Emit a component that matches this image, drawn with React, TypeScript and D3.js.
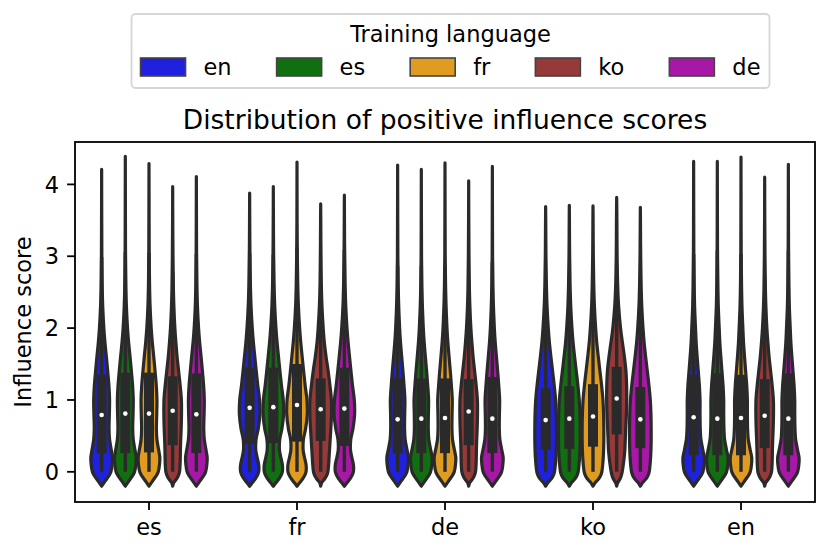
import React from 'react'
import * as d3 from 'd3'

// categories
const EVAL_LANGS = ['es', 'fr', 'de', 'ko', 'en']
const TRAIN_LANGS = ['en', 'es', 'fr', 'ko', 'de']
const COLORS = ['#2020df', '#107010', '#df9c20', '#963939', '#a718a7']
const Y_TICKS = [0, 1, 2, 3, 4]

// per training language, in EVAL_LANGS order
const MEDIANS: Record<string, number[]> = {
  en: [0.79, 0.89, 0.73, 0.72, 0.76],
  es: [0.81, 0.9, 0.74, 0.74, 0.74],
  fr: [0.81, 0.93, 0.75, 0.77, 0.75],
  ko: [0.85, 0.87, 0.84, 1.02, 0.78],
  de: [0.8, 0.88, 0.74, 0.73, 0.74],
}
const Q1: Record<string, number[]> = {
  en: [0.26, 0.39, 0.26, 0.31, 0.23],
  es: [0.26, 0.4, 0.26, 0.32, 0.23],
  fr: [0.27, 0.42, 0.26, 0.35, 0.23],
  ko: [0.37, 0.43, 0.37, 0.52, 0.33],
  de: [0.26, 0.36, 0.26, 0.33, 0.23],
}
const Q3: Record<string, number[]> = {
  en: [1.35, 1.45, 1.3, 1.16, 1.35],
  es: [1.38, 1.45, 1.3, 1.19, 1.37],
  fr: [1.38, 1.5, 1.3, 1.22, 1.35],
  ko: [1.33, 1.3, 1.29, 1.46, 1.29],
  de: [1.37, 1.45, 1.32, 1.18, 1.37],
}
const TOPS: Record<string, number[]> = {
  en: [4.21, 3.88, 4.27, 3.69, 4.32],
  es: [4.39, 3.97, 4.21, 3.71, 4.32],
  fr: [4.29, 4.31, 4.3, 3.7, 4.38],
  ko: [3.97, 3.73, 4.05, 3.82, 4.1],
  de: [4.11, 3.85, 4.25, 3.68, 4.28],
}
const DATA_MIN = 0

// violin outlines: relative half-width at each score level
const LEVELS = [-0.2, -0.15, -0.1, -0.05, 0, 0.1, 0.2, 0.3, 0.45, 0.6, 0.8, 1.0, 1.2, 1.4, 1.6, 1.8, 2.0, 2.3, 2.6, 3.0, 3.5]
const SHAPES: Record<string, number[]> = {
  sharpEs: [0, 0.22, 0.45, 0.68, 0.84, 0.95, 0.98, 0.88, 0.72, 0.67, 0.7, 0.72, 0.66, 0.55, 0.43, 0.3, 0.2, 0.1, 0.05, 0.02, 0.01],
  sharpDe: [0, 0.22, 0.45, 0.68, 0.84, 0.95, 0.98, 0.86, 0.68, 0.63, 0.64, 0.66, 0.58, 0.48, 0.37, 0.26, 0.18, 0.1, 0.05, 0.02, 0.01],
  sharpEn: [0, 0.22, 0.45, 0.68, 0.84, 0.95, 0.97, 0.84, 0.66, 0.6, 0.58, 0.58, 0.52, 0.42, 0.32, 0.23, 0.17, 0.09, 0.05, 0.02, 0.01],
  wavy: [0, 0.25, 0.5, 0.7, 0.82, 0.82, 0.68, 0.56, 0.58, 0.78, 0.93, 0.9, 0.74, 0.6, 0.47, 0.34, 0.24, 0.13, 0.07, 0.03, 0.01],
  round: [0, 0.2, 0.5, 0.7, 0.8, 0.88, 0.93, 0.96, 0.98, 0.98, 0.96, 0.9, 0.78, 0.63, 0.48, 0.34, 0.24, 0.13, 0.07, 0.03, 0.01],
  koRound: [0, 0.1, 0.35, 0.52, 0.62, 0.67, 0.69, 0.7, 0.73, 0.77, 0.8, 0.79, 0.68, 0.54, 0.4, 0.29, 0.2, 0.11, 0.06, 0.03, 0.01],
  koFr: [0, 0.1, 0.35, 0.55, 0.65, 0.72, 0.76, 0.8, 0.86, 0.92, 0.98, 0.97, 0.84, 0.68, 0.49, 0.33, 0.23, 0.12, 0.06, 0.03, 0.01],
  koKo: [0, 0.1, 0.3, 0.42, 0.5, 0.6, 0.68, 0.74, 0.78, 0.82, 0.88, 0.91, 0.9, 0.84, 0.7, 0.52, 0.35, 0.18, 0.09, 0.04, 0.02],
}
const GROUP_SHAPE: Record<string, string> = { es: 'sharpEs', fr: 'wavy', de: 'sharpDe', ko: 'round', en: 'sharpEn' }
const KO_SHAPE: Record<string, string> = { es: 'koRound', fr: 'koFr', de: 'koRound', ko: 'koKo', en: 'koRound' }

const W = 831
const H = 555
const margin = { top: 142, right: 16, bottom: 53, left: 75 }
const FONT = '"DejaVu Sans", sans-serif'
const FS = 22.5
const LINE = '#2a2a2a'
const LW = 3.2

const measure = (() => {
  const ctx = document.createElement('canvas').getContext('2d')
  return (s: string) => {
    if (!ctx) return s.length * FS * 0.6
    ctx.font = `${FS}px "DejaVu Sans"`
    return ctx.measureText(s).width
  }
})()

export default function App() {
  const x = d3.scaleBand().domain(EVAL_LANGS).range([margin.left, W - margin.right])
  const dodge = d3.scaleBand().domain(TRAIN_LANGS).range([-0.4 * x.bandwidth(), 0.4 * x.bandwidth()])
  const y = d3.scaleLinear().domain([-0.42, 4.59]).range([H - margin.bottom, margin.top])
  const halfW = d3.scaleLinear().domain([0, 1]).range([0, dodge.bandwidth() / 2 - 0.8])

  const violins: any[] = []
  EVAL_LANGS.forEach((ev, gi) => {
    TRAIN_LANGS.forEach((tr, ti) => {
      const cx = (x(ev) as number) + x.bandwidth() / 2 + (dodge(tr) as number) + dodge.bandwidth() / 2
      const shape = SHAPES[tr === 'ko' ? KO_SHAPE[ev] : GROUP_SHAPE[ev]]
      const top = TOPS[tr][gi]
      const pts = LEVELS.map((v, i) => ({ v, w: shape[i] })).filter((d) => d.v < top)
      pts.push({ v: top, w: 0 })
      const area = d3.area<{ v: number; w: number }>()
        .y((d) => y(d.v))
        .x0((d) => cx - halfW(d.w))
        .x1((d) => cx + halfW(d.w))
        .curve(d3.curveCatmullRom)
      const q1 = Q1[tr][gi]
      const q3 = Q3[tr][gi]
      const whiskHi = Math.min(q3 + 1.5 * (q3 - q1), top - 0.3)
      violins.push({
        key: `${ev}-${tr}`, cx, d: area(pts), color: COLORS[ti],
        q1, q3, med: MEDIANS[tr][gi], whiskHi,
      })
    })
  })

  // legend layout (matplotlib-like spacing)
  const handleLen = 2 * FS
  const handlePad = 0.8 * FS
  const colSpace = 2 * FS
  const pad = 0.4 * FS
  const entryW = TRAIN_LANGS.map((l) => handleLen + handlePad + measure(l))
  const legW = d3.sum(entryW) + colSpace * (TRAIN_LANGS.length - 1) + 2 * pad
  const legX = 450.5 - legW / 2
  const legY = 14
  const legH = 74
  let cursor = legX + pad
  const entries = TRAIN_LANGS.map((l, i) => {
    const e = { label: l, x: cursor, color: COLORS[i] }
    cursor += entryW[i] + colSpace
    return e
  })

  const axL = margin.left
  const axR = W - margin.right
  const axT = margin.top
  const axB = H - margin.bottom

  return (
    <svg width={W} height={H} style={{ position: 'absolute', left: 0, top: 0, background: '#fff' }} fontFamily={FONT}>
      <rect x={0} y={0} width={W} height={H} fill="#fff" />

      {/* violins */}
      <g>
        {violins.map((v) => (
          <g key={v.key}>
            <path d={v.d} fill={v.color} stroke={LINE} strokeWidth={LW} strokeLinejoin="round" />
            <line x1={v.cx} x2={v.cx} y1={y(DATA_MIN)} y2={y(v.whiskHi)} stroke={LINE} strokeWidth={3.4} />
            <rect x={v.cx - 5} width={10} y={y(v.q3)} height={y(v.q1) - y(v.q3)} fill={LINE} />
            <circle cx={v.cx} cy={y(v.med)} r={2.3} fill="#fff" />
          </g>
        ))}
      </g>

      {/* axes */}
      <rect x={axL} y={axT} width={axR - axL} height={axB - axT} fill="none" stroke="#000" strokeWidth={1.8} />
      {Y_TICKS.map((t) => (
        <g key={t} transform={`translate(0,${y(t)})`}>
          <line x1={axL - 7.9} x2={axL} stroke="#000" strokeWidth={1.8} />
          <text x={axL - 15.8} dy="0.36em" textAnchor="end" fontSize={FS} fill="#000">{t}</text>
        </g>
      ))}
      {EVAL_LANGS.map((l) => {
        const cx = (x(l) as number) + x.bandwidth() / 2
        return (
          <g key={l} transform={`translate(${cx},${axB})`}>
            <line y1={0} y2={7.9} stroke="#000" strokeWidth={1.8} />
            <text y={33} textAnchor="middle" fontSize={FS} fill="#000">{l}</text>
          </g>
        )
      })}
      <text transform={`translate(31,${(axT + axB) / 2}) rotate(-90)`} textAnchor="middle" fontSize={FS} fill="#000">Influence score</text>
      <text x={(axL + axR) / 2} y={128.5} textAnchor="middle" fontSize={26.5} fill="#000">Distribution of positive influence scores</text>

      {/* legend */}
      <g>
        <rect x={legX} y={legY} width={legW} height={legH} rx={4} fill="#fff" stroke="#d6d6d6" strokeWidth={1.8} />
        <text x={legX + legW / 2} y={legY + 28} textAnchor="middle" fontSize={FS} fill="#000">Training language</text>
        {entries.map((e) => (
          <g key={e.label}>
            <rect x={e.x} y={legY + 44} width={handleLen} height={0.8 * FS} fill={e.color} stroke="#444" strokeWidth={1.6} />
            <text x={e.x + handleLen + handlePad} y={legY + 61} fontSize={FS} fill="#000">{e.label}</text>
          </g>
        ))}
      </g>
    </svg>
  )
}
